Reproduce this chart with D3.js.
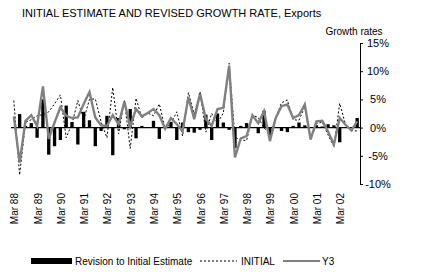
<!DOCTYPE html>
<html>
<head>
<meta charset="utf-8">
<script src="https://cdn.jsdelivr.net/npm/d3@7"></script>
<style>
  body { margin: 0; background: #fff; }
  svg { display: block; font-family: "Liberation Sans", Arial, sans-serif; }
</style>
</head>
<body>
<div id="chart"></div>
<script>
// quarters Mar 88 .. Dec 02
var years = ["88","89","90","91","92","93","94","95","96","97","98","99","00","01","02"];
var months = ["Mar","Jun","Sep","Dec"];
var quarters = [];
years.forEach(y => months.forEach(m => quarters.push(m + " " + y)));

// revision to initial estimate (bars), % points
var revision = [0, 2.4, 0.3, 0.8, -1.8, 5.0, -4.8, -3.3, -2.2, 3.9,
  1.0, -3.0, 2.8, 1.3, -3.3, -0.6, 2.1, -4.9, 1.7, -0.3,
  3.3, -1.9, 0.3, 0, 1.2, -2.0, 0, 1.0, -2.2, 0.9,
  -0.8, -0.9, -0.4, 2.3, -2.2, 2.5, 0.9, -0.4, -3.6, 0.3,
  0.8, 0, -1.0, 3.0, -1.5, 0, -0.6, -0.8, 0.3, 0.9,
  0.4, 0, 0.4, 0.2, 0.6, 0.4, -2.6, 0, 0, 1.7];

// initial estimate (dotted)
var initial = [4.8, -8.4, 0.9, 1.4, 2.1, 2.3, 2.8, 4.2, 5.8, -1.8,
  0.7, 4.8, 1.4, 5.0, 5.1, 1.0, -1.8, 7.1, -1.1, 4.9,
  -3.7, 5.2, 1.7, 2.6, 2.1, 4.2, -0.2, 0.7, 2.8, -1.5,
  6.2, 2.4, 6.4, -0.8, 2.5, 0.8, 2.6, 11.4, -1.7, -2.2,
  -2.3, 2.2, 1.8, -0.1, -0.9, 1.7, 4.4, 4.9, 1.4, 1.3,
  3.7, -2.1, 0.7, 1.0, -1.3, -3.4, 4.3, 0.5, -0.5, -0.6];

// Y3 estimate (grey line)
var y3 = [2.0, -6.2, 1.2, 2.2, 0.3, 7.3, -2.0, 0.9, 3.6, 2.1,
  1.7, 1.8, 4.2, 6.3, 1.8, 0.4, 0.3, 2.2, 0.6, 4.6,
  0.2, 3.3, 2.0, 2.6, 3.3, 2.2, -0.2, 1.7, 0.6, -0.6,
  5.4, 1.5, 6.0, 1.5, 0.3, 3.3, 3.5, 11.0, -5.3, -1.9,
  -1.5, 2.2, 0.8, 2.9, -2.4, 1.7, 3.8, 4.1, 1.7, 2.2,
  4.1, -2.1, 1.1, 1.2, -0.7, -3.0, 1.7, 0.5, -0.5, 1.1];

var yTicks = [-10, -5, 0, 5, 10, 15];

var width = 424, height = 278;

var svg = d3.select("#chart").append("svg")
    .attr("width", width)
    .attr("height", height);

var x = d3.scaleBand().domain(quarters).range([11, 360]).paddingInner(0.43).paddingOuter(0.2);
var y = d3.scaleLinear().domain([-10, 15]).range([184, 43]);

// title
svg.append("text")
    .attr("x", 22).attr("y", 17)
    .attr("font-size", "11px")
    .text("INITIAL ESTIMATE AND REVISED GROWTH RATE, Exports");

svg.append("text")
    .attr("x", 354).attr("y", 35)
    .attr("text-anchor", "middle")
    .attr("font-size", "10px")
    .text("Growth rates");

// bars
svg.append("g").selectAll("rect")
    .data(revision)
    .enter().append("rect")
    .attr("x", (d, i) => x(quarters[i]))
    .attr("width", x.bandwidth())
    .attr("y", d => y(Math.max(0, d)))
    .attr("height", d => Math.abs(y(d) - y(0)))
    .attr("fill", "#000");

// zero line
svg.append("line")
    .attr("x1", 11).attr("x2", 360)
    .attr("y1", y(0)).attr("y2", y(0))
    .attr("stroke", "#000").attr("stroke-width", 1.2);

var cx = i => x(quarters[i]) + x.bandwidth() / 2;

var line = d3.line().x((d, i) => cx(i)).y(d => y(d));

svg.append("path")
    .datum(initial)
    .attr("d", line)
    .attr("fill", "none")
    .attr("stroke", "#000")
    .attr("stroke-width", 1)
    .attr("stroke-dasharray", "2,2");

svg.append("path")
    .datum(y3)
    .attr("d", line)
    .attr("fill", "none")
    .attr("stroke", "#808080")
    .attr("stroke-width", 2.4)
    .attr("stroke-linejoin", "miter");

// right axis
var yAxis = svg.append("g")
    .attr("transform", "translate(360,0)")
    .call(d3.axisRight(y).tickValues(yTicks).tickSize(3).tickSizeOuter(0).tickFormat(d => d + "%"));
yAxis.select(".domain").attr("stroke", "#000");
yAxis.selectAll("text")
    .attr("x", 18)
    .attr("text-anchor", "middle")
    .attr("font-size", "11px")
    .attr("font-family", "Liberation Sans, Arial, sans-serif");

// x labels, every fourth quarter
svg.append("g").selectAll("text")
    .data(quarters.filter((q, i) => i % 4 === 0))
    .enter().append("text")
    .attr("transform", d => "translate(" + (x(d) + x.bandwidth() / 2 + 1) + ",193) rotate(-90)")
    .attr("dy", "0.35em")
    .attr("text-anchor", "end")
    .attr("font-size", "10px")
    .text(d => d);

// legend
var lg = svg.append("g");
lg.append("rect").attr("x", 31).attr("y", 258).attr("width", 41).attr("height", 6).attr("fill", "#000");
lg.append("text").attr("x", 75).attr("y", 265).attr("font-size", "10px").text("Revision to Initial Estimate");
lg.append("line").attr("x1", 200).attr("x2", 237).attr("y1", 261).attr("y2", 261)
    .attr("stroke", "#000").attr("stroke-width", 1).attr("stroke-dasharray", "2,2");
lg.append("text").attr("x", 241).attr("y", 265).attr("font-size", "10px").text("INITIAL");
lg.append("line").attr("x1", 283).attr("x2", 320).attr("y1", 261).attr("y2", 261)
    .attr("stroke", "#808080").attr("stroke-width", 2);
lg.append("text").attr("x", 322).attr("y", 265).attr("font-size", "10px").text("Y3");
</script>
</body>
</html>
